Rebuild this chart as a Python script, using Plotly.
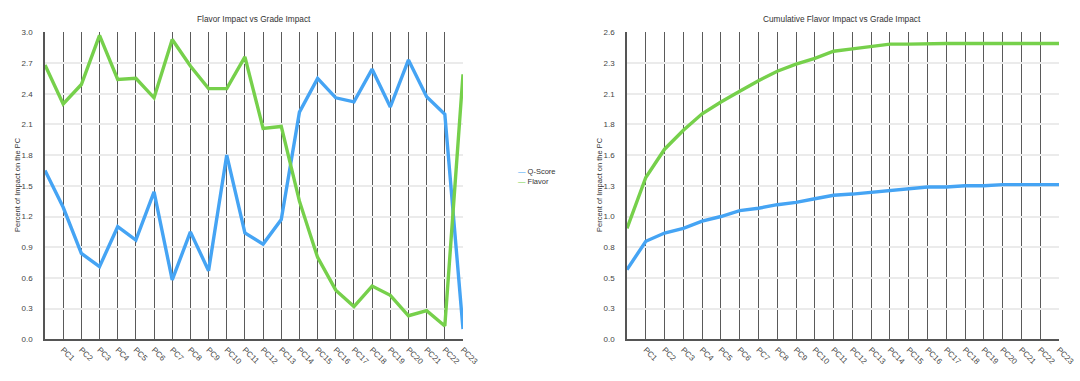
import plotly.graph_objects as go

# ---- data ----
positions = list(range(24))
tick_positions = list(range(1, 24))
tick_labels = [f"PC{i}" for i in range(1, 24)]

qscore = [1.65, 1.29, 0.84, 0.71, 1.10, 0.97, 1.44, 0.58, 1.05, 0.67, 1.80, 1.04,
          0.93, 1.17, 2.22, 2.55, 2.36, 2.32, 2.64, 2.27, 2.73, 2.37, 2.20, 0.10]
flavor = [2.68, 2.30, 2.49, 2.97, 2.54, 2.55, 2.36, 2.93, 2.67, 2.45, 2.45, 2.76,
          2.06, 2.08, 1.35, 0.80, 0.48, 0.32, 0.52, 0.43, 0.23, 0.28, 0.13, 2.59]

cum_qscore = [0.59, 0.83, 0.90, 0.94, 1.00, 1.04, 1.09, 1.11, 1.14, 1.16, 1.19, 1.22,
              1.23, 1.245, 1.26, 1.28, 1.29, 1.29, 1.30, 1.30, 1.31, 1.31, 1.31, 1.31]
cum_flavor = [0.94, 1.37, 1.61, 1.77, 1.91, 2.01, 2.10, 2.19, 2.27, 2.33, 2.38, 2.44,
              2.46, 2.48, 2.50, 2.50, 2.505, 2.505, 2.505, 2.505, 2.505, 2.505, 2.505, 2.505]

series_names = ["Q-Score", "Flavor"]

left_yticks = [round(0.3 * k, 2) for k in range(11)]
left_ytext = [f"{v:.1f}" for v in left_yticks]
right_yticks = [0.26 * k for k in range(11)]
right_ytext = [f"{round(v + 1e-9, 1):.1f}" for v in right_yticks]

BLUE = "#45a4f4"
GREEN = "#76d04b"
FONT = "Liberation Sans, Arial, sans-serif"
LW = 3.4

fig = go.Figure()
fig.add_trace(go.Scatter(x=positions, y=qscore, mode="lines", name=series_names[0],
                         line=dict(color=BLUE, width=LW), xaxis="x", yaxis="y"))
fig.add_trace(go.Scatter(x=positions, y=flavor, mode="lines", name=series_names[1],
                         line=dict(color=GREEN, width=LW), xaxis="x", yaxis="y"))
fig.add_trace(go.Scatter(x=positions, y=cum_qscore, mode="lines", name=series_names[0],
                         line=dict(color=BLUE, width=LW), xaxis="x2", yaxis="y2"))
fig.add_trace(go.Scatter(x=positions, y=cum_flavor, mode="lines", name=series_names[1],
                         line=dict(color=GREEN, width=LW), xaxis="x2", yaxis="y2"))

ydom = [1 - 339.3 / 381, 1 - 32.3 / 381]

xcommon = dict(range=[0, 23], tickmode="array", tickvals=tick_positions, ticktext=tick_labels,
               tickangle=45, showgrid=True, gridcolor="#5a5a5a", gridwidth=1.3,
               showline=True, linecolor="#555555", linewidth=1.5, zeroline=False,
               tickfont=dict(size=8, color="#444444", family=FONT), ticks="",
               ticklabelstandoff=1, automargin=False)
ycommon = dict(showgrid=True, gridcolor="#ebebeb", gridwidth=1.5, zeroline=False,
               showline=True, linecolor="#555555", linewidth=1.5,
               tickfont=dict(size=8, color="#444444", family=FONT), ticks="",
               ticklabelstandoff=9, automargin=False)

fig.update_layout(
    width=1080, height=381,
    margin=dict(l=0, r=0, t=0, b=0),
    paper_bgcolor="white", plot_bgcolor="white",
    font=dict(family=FONT, size=8, color="#333333"),
    xaxis=dict(domain=[45 / 1080, 463 / 1080], anchor="y", **xcommon),
    yaxis=dict(domain=ydom, anchor="x", range=[0, 3.0], tickmode="array",
               tickvals=left_yticks, ticktext=left_ytext, **ycommon),
    xaxis2=dict(domain=[627 / 1080, 1059 / 1080], anchor="y2", **xcommon),
    yaxis2=dict(domain=ydom, anchor="x2", range=[0, 2.6], tickmode="array",
                tickvals=right_yticks, ticktext=right_ytext, **ycommon),
    showlegend=False,
    annotations=[
        dict(text="Flavor Impact vs Grade Impact", x=254 / 1080, y=1 - 19 / 381,
             xref="paper", yref="paper", showarrow=False, xanchor="center", yanchor="middle",
             font=dict(size=8.3, color="#333333", family=FONT)),
        dict(text="Cumulative Flavor Impact vs Grade Impact", x=842 / 1080, y=1 - 19 / 381,
             xref="paper", yref="paper", showarrow=False, xanchor="center", yanchor="middle",
             font=dict(size=8.3, color="#333333", family=FONT)),
        dict(text="Percent of Impact on the PC", x=18 / 1080, y=1 - 185 / 381,
             xref="paper", yref="paper", showarrow=False, textangle=-90,
             xanchor="center", yanchor="middle",
             font=dict(size=7.5, color="#333333", family=FONT)),
        dict(text="Percent of Impact on the PC", x=600 / 1080, y=1 - 185 / 381,
             xref="paper", yref="paper", showarrow=False, textangle=-90,
             xanchor="center", yanchor="middle",
             font=dict(size=7.5, color="#333333", family=FONT)),
        # legend
        dict(text=f"<span style='color:{BLUE}'>\u2014</span> {series_names[0]}",
             x=516 / 1080, y=1 - 172 / 381, xref="paper", yref="paper",
             xanchor="left", yanchor="middle", showarrow=False,
             font=dict(size=7.5, color="#333333", family=FONT)),
        dict(text=f"<span style='color:{GREEN}'>\u2014</span> {series_names[1]}",
             x=516 / 1080, y=1 - 181 / 381, xref="paper", yref="paper",
             xanchor="left", yanchor="middle", showarrow=False,
             font=dict(size=7.5, color="#333333", family=FONT)),
    ],
)

fig.write_html("out.html", config={"displayModeBar": False},
               post_script="document.body.style.margin='0';document.body.style.padding='0';")
